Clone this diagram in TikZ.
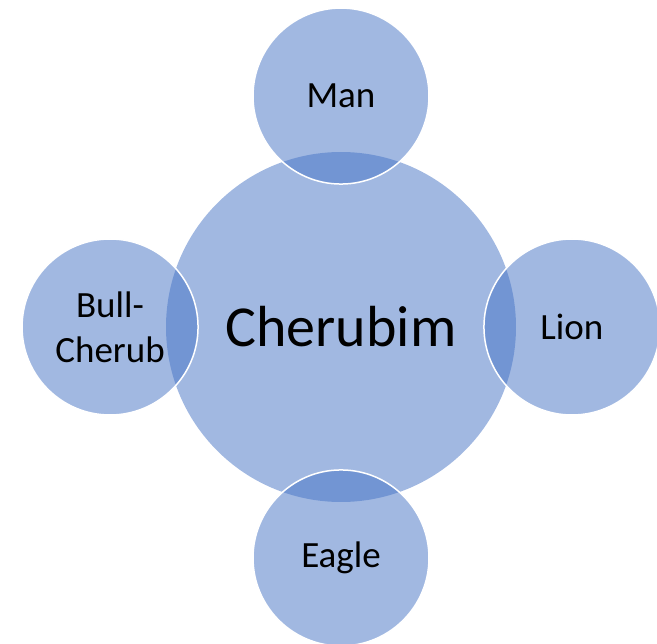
\documentclass[tikz,border=0pt]{standalone}
\usepackage{fontspec}
\setmainfont{Carlito}
\usetikzlibrary{positioning}
\definecolor{accent}{HTML}{4472C4}

\begin{document}
\begin{tikzpicture}[x=1pt,y=-1pt,node distance=-33pt and -33pt]
    \tikzstyle{hub}=[circle,inner sep=0pt,minimum size=350pt,fill=accent,fill opacity=0.5,text opacity=1,font=\fontsize{58}{70}\selectfont]
    \tikzstyle{face}=[circle,inner sep=0pt,minimum size=176pt,fill=accent,fill opacity=0.5,draw=white,draw opacity=1,line width=1.5pt,text opacity=1,align=center,font=\fontsize{37}{45}\selectfont]

    \useasboundingbox (0,0) rectangle (657,644);

    \node[hub] (cherubim) at (341,327) {Cherubim};
    \node[face] (man) [above=of cherubim] {Man};
    \node[face] (lion) [right=of cherubim] {Lion};
    \node[face] (eagle) [below=of cherubim] {Eagle};
    \node[face] (bull) [left=of cherubim] {Bull-\\Cherub};
\end{tikzpicture}
\end{document}
